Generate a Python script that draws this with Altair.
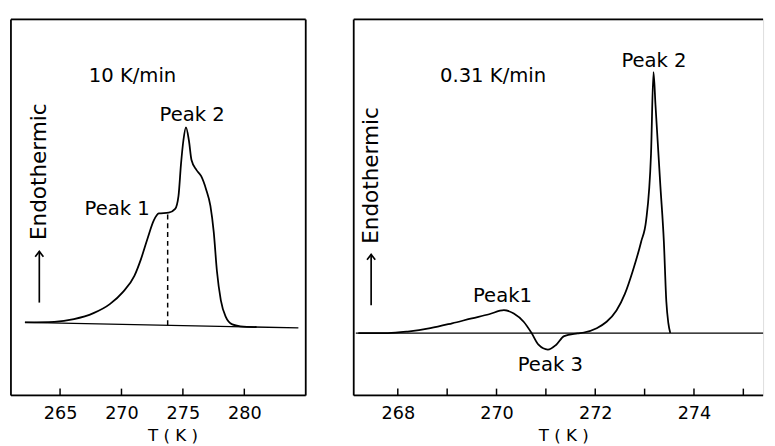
import altair as alt
import pandas as pd

FONT = "DejaVu Sans"
H = 384

# ---------------- Left panel: 10 K/min ----------------
L_T = [262.14, 264.53, 266.13, 267.72, 269.05, 270.11, 271.05, 271.58, 272.11, 272.64,
       273.04, 273.84, 274.37, 274.64, 274.85, 275.04, 275.25, 275.49, 275.70, 276.10,
       276.49, 276.89, 277.24, 277.51, 277.77, 278.09, 278.49, 279.02, 279.68, 281.0]
L_S = [19.45, 19.6, 20.3, 21.9, 24.3, 27.5, 31.8, 36.2, 41.6, 46.6,
       48.4, 48.6, 49.6, 53.0, 61.7, 67.8, 71.3, 67.8, 62.6, 60.0,
       58.3, 54.8, 50.4, 43.5, 33.1, 25.3, 20.9, 18.9, 18.4, 18.2]
L_BASE_T = [262.14, 284.4]
L_BASE_S = [19.45, 17.97]
L_DASH_T = [273.76, 273.76]
L_DASH_S = [18.7, 48.6]
L_TICKS = [265, 270, 275, 280]
L_LABEL_TICKS = [265, 270, 275, 280]
L_DOMAIN = [261.0, 285.0]
L_WIDTH = 301
L_TEXT = ["10 K/min", "Peak 2", "Peak 1"]
L_TEXT_T = [270.9, 275.75, 269.65]
L_TEXT_S = [83.3, 73.0, 47.9]
L_ARROW_T = [263.31, 263.31]
L_ARROW_S = [24.7, 38.3]
L_ENDO_T = 263.31
L_ENDO_S = 59.5

# ---------------- Right panel: 0.31 K/min ----------------
R_T = [267.2, 267.8, 268.2, 268.66, 269.1, 269.5, 269.85, 270.15, 270.35, 270.55,
       270.71, 270.85, 271.04, 271.21, 271.37, 271.64, 271.77, 272.03, 272.23, 272.43,
       272.6, 272.76, 272.93, 273.03, 273.13, 273.18, 273.22, 273.32, 273.39, 273.44,
       273.48, 273.52]
R_S = [16.6, 16.6, 17.0, 17.9, 19.2, 20.5, 21.6, 22.7, 21.8, 19.6,
       16.6, 13.5, 12.2, 13.5, 15.8, 16.5, 16.75, 17.9, 19.6, 22.6,
       27.0, 33.1, 40.9, 46.5, 64.3, 86.0, 77.3, 55.6, 40.9, 25.0,
       19.3, 16.6]
R_BASE_T = [267.15, 275.4]
R_BASE_S = [16.6, 16.6]
R_TICKS = [268, 269, 270, 271, 272, 273, 274, 275]
R_LABEL_TICKS = [268, 270, 272, 274]
R_DOMAIN = [267.107, 275.40]
R_WIDTH = 418
R_TEXT = ["0.31 K/min", "Peak 2", "Peak1", "Peak 3"]
R_TEXT_T = [269.93, 273.19, 270.12, 271.09]
R_TEXT_S = [83.4, 87.3, 24.8, 6.6]
R_ARROW_T = [267.46, 267.46]
R_ARROW_S = [24.0, 37.5]
R_ENDO_T = 267.46
R_ENDO_S = 58.5


def x_enc(domain, label_ticks, title_x):
    return alt.X(
        "T:Q",
        scale=alt.Scale(domain=domain, nice=False, zero=False),
        axis=alt.Axis(values=label_ticks, ticks=False, domain=False, grid=False,
                      labelFontSize=18, labelFont=FONT, labelPadding=10, labelColor="black",
                      format="d", title="T ( K )", titleFont=FONT, titleFontSize=17,
                      titleFontWeight="normal", titleColor="black", titlePadding=5,
                      titleX=title_x, titleAlign="center"),
    )


Y = alt.Y("S:Q", scale=alt.Scale(domain=[0, 100]), axis=None)


def panel(cT, cS, bT, bS, ticks, label_ticks, domain, width, texts, tT, tS,
          aT, aS, eT, eS, title_x, right_border, dT=None, dS=None):
    X = x_enc(domain, label_ticks, title_x)
    layers = []
    layers.append(alt.Chart(pd.DataFrame({"T": bT, "S": bS})).mark_line(
        color="black", strokeWidth=1.3).encode(x=X, y=Y))
    layers.append(alt.Chart(pd.DataFrame({"T": cT, "S": cS, "o": range(len(cT))})).mark_line(
        color="black", strokeWidth=1.8, interpolate="monotone").encode(x=X, y=Y, order="o:Q"))
    if dT is not None:
        layers.append(alt.Chart(pd.DataFrame({"T": dT, "S": dS})).mark_line(
            color="black", strokeWidth=1.5, strokeDash=[5, 4]).encode(x=X, y=Y))
    # inward tick marks
    layers.append(alt.Chart(pd.DataFrame({"T": ticks})).mark_rule(
        color="black", strokeWidth=1.5).encode(x=X, y=alt.value(H), y2=alt.value(H - 7)))
    # frame
    dummy = pd.DataFrame({"a": [0]})
    layers.append(alt.Chart(dummy).mark_rule(color="black", strokeWidth=1.8).encode(
        x=alt.value(0), x2=alt.value(width), y=alt.value(0)))
    layers.append(alt.Chart(dummy).mark_rule(color="black", strokeWidth=1.8).encode(
        x=alt.value(0), x2=alt.value(width), y=alt.value(H)))
    layers.append(alt.Chart(dummy).mark_rule(color="black", strokeWidth=1.8).encode(
        x=alt.value(0), y=alt.value(0), y2=alt.value(H)))
    if right_border:
        layers.append(alt.Chart(dummy).mark_rule(color="black", strokeWidth=1.8).encode(
            x=alt.value(width), y=alt.value(0), y2=alt.value(H)))
    # annotations
    layers.append(alt.Chart(pd.DataFrame({"T": tT, "S": tS, "txt": texts})).mark_text(
        font=FONT, fontSize=20, color="black", align="center", baseline="alphabetic").encode(
        x=X, y=Y, text="txt:N"))
    # endothermic arrow
    layers.append(alt.Chart(pd.DataFrame({"T": aT, "S": aS})).mark_line(
        color="black", strokeWidth=1.7).encode(x=X, y=Y))
    layers.append(alt.Chart(pd.DataFrame({"T": [aT[1]], "S": [aS[1]]})).mark_point(
        shape="M-1,1.3L0,0L1,1.3", filled=False, size=70, color="black", strokeWidth=1.7,
        opacity=1).encode(x=X, y=Y))
    layers.append(alt.Chart(pd.DataFrame({"T": [eT], "S": [eS], "txt": ["Endothermic"]})).mark_text(
        font=FONT, fontSize=22, color="black", angle=270, align="center", baseline="middle").encode(
        x=X, y=Y, text="txt:N"))
    return alt.layer(*layers).properties(width=width, height=H)


left = panel(L_T, L_S, L_BASE_T, L_BASE_S, L_TICKS, L_LABEL_TICKS, L_DOMAIN, L_WIDTH,
             L_TEXT, L_TEXT_T, L_TEXT_S, L_ARROW_T, L_ARROW_S, L_ENDO_T, L_ENDO_S,
             165, True, L_DASH_T, L_DASH_S)
right = panel(R_T, R_S, R_BASE_T, R_BASE_S, R_TICKS, R_LABEL_TICKS, R_DOMAIN, R_WIDTH,
              R_TEXT, R_TEXT_T, R_TEXT_S, R_ARROW_T, R_ARROW_S, R_ENDO_T, R_ENDO_S,
              214, False)

chart = alt.hconcat(left, right, spacing=45).properties(
    padding={"left": 1, "top": 5, "right": 0, "bottom": 0}
).configure_view(stroke=None).configure(background="white")

chart.save("out.html", embed_options={"renderer": "svg", "actions": False})
